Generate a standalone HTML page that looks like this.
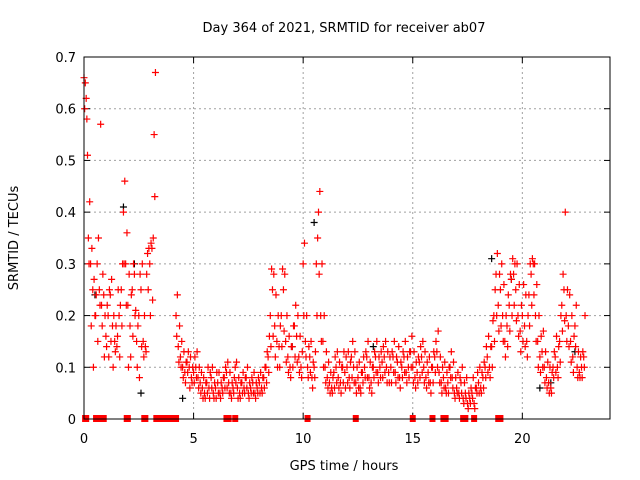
<!DOCTYPE html>
<html><head><meta charset="utf-8"><style>
html,body{margin:0;padding:0;background:#fff}
svg{display:block}
text{font-family:"DejaVu Sans","Liberation Sans",sans-serif;font-size:13px;fill:#000}
</style></head><body>
<svg id="chart" width="640" height="480" viewBox="0 0 640 480" xmlns="http://www.w3.org/2000/svg">
<text x="344" y="32" text-anchor="middle">Day 364 of 2021, SRMTID for receiver ab07</text>
<text transform="translate(18,238) rotate(-90)" text-anchor="middle">SRMTID / TECUs</text>
<text x="344" y="470" text-anchor="middle">GPS time / hours</text>
<g id="grid"></g>
<g id="ticks"></g>
<g id="black"></g>
<g id="marks"></g>
<rect x="84" y="57" width="526" height="362" fill="none" stroke="#000" stroke-width="1"/>
</svg>
<script>
const xTicks=[0,5,10,15,20];
const yTicks=[0,0.1,0.2,0.3,0.4,0.5,0.6,0.7];
const yTickLabels=["0","0.1","0.2","0.3","0.4","0.5","0.6","0.7"];
const N=null;
const seriesA=[.66,.62,.35,.3,.25,.2,.3,.25,.22,.24,
.16,.2,.24,.18,.15,.14,.2,.25,.4,.3,
.22,.18,.25,.28,.15,.2,.25,.15,.14,.32,
.3,.33,.55,N,N,N,N,N,N,N,
N,N,.2,.14,.12,.1,.09,.11,.1,.08,
.09,.1,.08,.07,.06,.05,.07,.06,.08,.05,
.06,.07,.05,.06,.08,.09,.07,.05,.06,.1,
.06,.05,.07,.06,.08,.05,.06,.07,.05,.06,
.07,.06,.08,.1,.12,.2,.25,.18,.15,.14,
.2,.25,.15,.12,.1,.14,.18,.16,.12,.1,
.3,.15,.1,.12,.08,.1,.3,.4,.2,.15,
.1,.08,.07,.06,.09,.1,.08,.07,.1,.09,
.1,.08,.12,.1,.07,.08,.06,.09,.1,.12,
.08,.07,.1,.12,.09,.1,.11,.12,.1,.09,
.1,.12,.09,.11,.08,.1,.12,.09,.1,.13,
.1,.08,.09,.11,.12,.1,.08,.09,.07,.1,
.12,.13,.09,.07,.08,.06,.07,.1,.08,.05,
.06,.05,.07,.04,.05,.03,.04,.05,.03,.06,
.07,.06,.08,.1,.12,.1,.14,.2,.28,.22,
.25,.2,.15,.18,.22,.27,.28,.25,.2,.17,
.2,.18,.15,.24,.28,.3,.2,.15,.12,.13,
.1,.08,.07,.06,.1,.12,.1,.15,.22,.25,
.2,.18,.15,.12,.18,.1,.09,.1,.12];
const seriesB=[.6,.58,.3,.18,.1,.2,.15,.22,.18,.12,
.14,.12,.15,.1,.13,.16,.12,.18,.3,.22,
.1,.12,.16,.2,.1,.08,.14,.12,.13,.25,
.2,.23,.43,N,N,N,N,N,N,N,
N,N,.16,.11,.1,.08,.07,.09,.06,.07,
.07,.08,.06,.05,.04,.04,.05,.04,.06,.04,
.04,.05,.04,.05,.06,.06,.05,.04,.05,.07,
.04,.04,.05,.05,.06,.04,.05,.05,.04,.05,
.05,.05,.06,.07,.09,.14,.16,.12,.1,.1,
.14,.17,.11,.09,.08,.1,.12,.11,.09,.08,
.2,.12,.08,.09,.06,.08,.2,.28,.15,.1,
.07,.06,.05,.05,.06,.07,.06,.05,.07,.06,
.07,.06,.08,.07,.05,.06,.05,.07,.08,.08,
.06,.05,.08,.09,.07,.08,.08,.09,.07,.07,
.07,.09,.07,.08,.06,.08,.09,.07,.08,.1,
.07,.06,.07,.08,.09,.07,.06,.07,.05,.07,
.09,.1,.07,.05,.06,.05,.05,.08,.06,.04,
.05,.04,.05,.03,.04,.02,.03,.04,.02,.05,
.05,.05,.06,.08,.09,.08,.1,.15,.2,.17,
.18,.15,.12,.14,.17,.2,.22,.19,.16,.13,
.15,.14,.12,.18,.22,.24,.15,.1,.09,.1,
.07,.06,.05,.05,.08,.09,.08,.11,.17,.19,
.15,.14,.11,.09,.14,.08,.08,.08,.1];
const seriesC=[.65,.51,.42,.33,.27,.24,.35,.57,.28,.2,
.22,.25,.27,.2,.18,.25,.22,.3,.46,.36,
.28,.24,.3,.21,.18,.28,.3,.2,.28,.33,
.34,.35,.67,N,N,N,N,N,N,N,
N,N,.24,.18,.15,.13,.11,.13,.12,.1,
.12,.13,.1,.09,.08,.07,.1,.09,.1,.07,
.09,.09,.07,.08,.1,.11,.09,.07,.08,.11,
.08,.07,.09,.08,.1,.07,.08,.09,.07,.08,
.09,.08,.1,.13,.16,.29,.28,.24,.2,.18,
.29,.28,.2,.16,.14,.18,.22,.2,.16,.13,
.34,.2,.14,.15,.11,.13,.35,.44,.3,.2,
.13,.11,.09,.08,.12,.13,.11,.1,.13,.12,
.13,.11,.15,.13,.1,.11,.09,.12,.13,.15,
.11,.1,.13,.15,.12,.13,.14,.15,.13,.12,
.13,.15,.12,.14,.11,.13,.15,.12,.13,.16,
.13,.11,.12,.14,.15,.13,.11,.12,.1,.13,
.15,.17,.12,.1,.11,.09,.1,.13,.11,.08,
.09,.08,.1,.07,.08,.05,.06,.08,.06,.09,
.1,.09,.11,.14,.16,.14,.19,.25,.32,.28,
.3,.26,.2,.24,.28,.31,.3,.3,.26,.22,
.26,.24,.2,.3,.31,.3,.26,.2,.16,.17,
.13,.11,.1,.09,.13,.16,.14,.2,.28,.4,
.25,.24,.2,.16,.22,.13,.12,.13,.2];
const zeroTimes=[0.05,0.1,0.55,0.65,0.75,0.9,1.95,2.0,2.75,2.8,3.3,3.4,3.5,3.6,3.7,3.8,3.9,4.0,4.1,4.2,6.5,6.6,6.9,10.2,12.4,15.0,15.9,16.4,16.5,17.3,17.4,17.8,18.9,19.0];
const blackTimes=[0.5,1.8,2.3,2.6,4.5,9.5,10.5,13.2,18.6,19.5,20.8,21.3,22.4];
const blackValues=[0.24,0.41,0.3,0.05,0.04,0.14,0.38,0.14,0.31,0.27,0.06,0.07,0.13];

const X0=84,X1=610,Y0=419,Y1=57,XMAX=24,YMAX=0.7;
function sx(t){return X0+(X1-X0)*t/XMAX;}
function sy(v){return Y0-(Y0-Y1)*v/YMAX;}
const NS="http://www.w3.org/2000/svg";
const grid=document.getElementById('grid'),ticks=document.getElementById('ticks');
function el(tag,attrs,parent){const e=document.createElementNS(NS,tag);for(const k in attrs)e.setAttribute(k,attrs[k]);parent.appendChild(e);return e;}
yTicks.forEach((v,i)=>{
  const y=sy(v);
  if(i>0&&i<yTicks.length-1){const g=el('line',{x1:X0,x2:X1,y1:y,y2:y,stroke:'#a0a0a0','stroke-dasharray':'2,3'},grid);
  
  }
  const t=el('text',{x:X0-8,y:y+5,'text-anchor':'end'},ticks);t.textContent=yTickLabels[i];
  
  
  el('line',{x1:X0,x2:X0+6,y1:y,y2:y,stroke:'#000'},ticks);
  el('line',{x1:X1,x2:X1-6,y1:y,y2:y,stroke:'#000'},ticks);
});
xTicks.forEach(v=>{
  const x=sx(v);
  if(v>0){const g=el('line',{x1:x,x2:x,y1:Y0,y2:Y1,stroke:'#a0a0a0','stroke-dasharray':'2,3'},grid);
  
  }
  const t=el('text',{x:x,y:Y0+24,'text-anchor':'middle'},ticks);t.textContent=String(v);
  
  
  el('line',{x1:x,x2:x,y1:Y0,y2:Y0-6,stroke:'#000'},ticks);
  el('line',{x1:x,x2:x,y1:Y1,y2:Y1+6,stroke:'#000'},ticks);
});
function plus(t,v,color,parent){
  const x=sx(t),y=sy(v);
  const p=el('path',{d:`M${x-3.5},${y}H${x+3.5}M${x},${y-3.5}V${y+3.5}`,stroke:color,'stroke-width':1.2,fill:'none'},parent);
  
  
}
const black=document.getElementById('black'),marks=document.getElementById('marks');
blackTimes.forEach((t,i)=>plus(t,blackValues[i],'#000',black));
[[seriesA,0],[seriesB,0.03],[seriesC,0.06]].forEach(([arr,off])=>{
  arr.forEach((v,i)=>{if(v!==null)plus(i*0.1+off,v,'#ff0000',marks);});
});
zeroTimes.forEach(t=>{
  const r=el('rect',{x:sx(t)-3,y:Y0-4,width:6,height:7,fill:'#ff0000'},marks);
  
  
});
</script>
</body></html>
